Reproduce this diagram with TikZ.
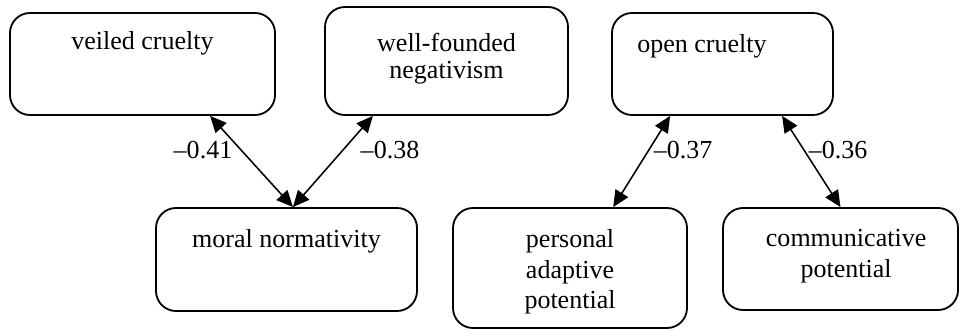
\documentclass[tikz,border=0pt]{standalone}
\usepackage{fontspec}
\setmainfont{Liberation Serif}
\newfontfamily\timesfam{Liberation Serif}
\usepackage{tikz}
\usetikzlibrary{positioning,arrows.meta}

\begin{document}
\begin{tikzpicture}[
    box/.style={draw, line width=1.3pt, rounded corners=0.5cm, inner sep=0pt},
    txt/.style={inner sep=0pt, align=center, font=\timesfam\fontsize{18.5}{21.8}\selectfont},
    corr/.style={{Triangle[length=0.41cm,width=0.37cm]}-{Triangle[length=0.41cm,width=0.37cm]}, line width=1.1pt}
]
    \useasboundingbox (0,0) rectangle (24,8.25);

    % top row
    \node[box, minimum width=6.625cm, minimum height=2.55cm] (veiled) at (3.5625,6.65) {};
    \node[txt, below=0.48cm of veiled.north] (veiledtxt) {veiled cruelty};

    \node[box, minimum width=6.075cm, minimum height=2.7cm] (well) at (11.1625,6.725) {};
    \node[txt, below=0.67cm of well.north] (welltxt) {well-founded\\[-2.8pt]negativism};

    \node[box, minimum width=5.525cm, minimum height=2.55cm] (open) at (18.0625,6.65) {};
    \node[txt, below right=0.55cm and 0.65cm of open.north west] (opentxt) {open cruelty};

    % bottom row
    \node[box, minimum width=6.525cm, minimum height=2.575cm] (moral) at (7.1625,1.7625) {};
    \node[txt, below=0.55cm of moral.north] (moraltxt) {moral normativity};

    \node[box, minimum width=5.85cm, minimum height=3cm] (personal) at (14.25,1.55) {};
    \node[txt, below=0.55cm of personal.north] (personaltxt) {personal\\adaptive\\potential};

    \node[box, minimum width=5.875cm, minimum height=2.55cm] (comm) at (21.0125,1.775) {};
    \node[txt, below=0.55cm of comm.north, xshift=0.14cm] (commtxt) {communicative\\potential};

    % correlations
    \draw[corr] ([xshift=1.69cm]veiled.south) -- ([xshift=0.16cm]moral.north);
    \draw[corr] ([xshift=-1.84cm]well.south) -- ([xshift=0.16cm]moral.north);
    \draw[corr] ([xshift=-1.31cm]open.south) -- ([xshift=1.08cm]personal.north);
    \draw[corr] ([xshift=1.49cm]open.south) -- (comm.north);

    \node[txt] (r1) at (5.075,4.5) {\textendash0.41};
    \node[txt] (r2) at (9.75,4.5) {\textendash0.38};
    \node[txt] (r3) at (17.075,4.5) {\textendash0.37};
    \node[txt] (r4) at (20.95,4.5) {\textendash0.36};
\end{tikzpicture}
\end{document}
